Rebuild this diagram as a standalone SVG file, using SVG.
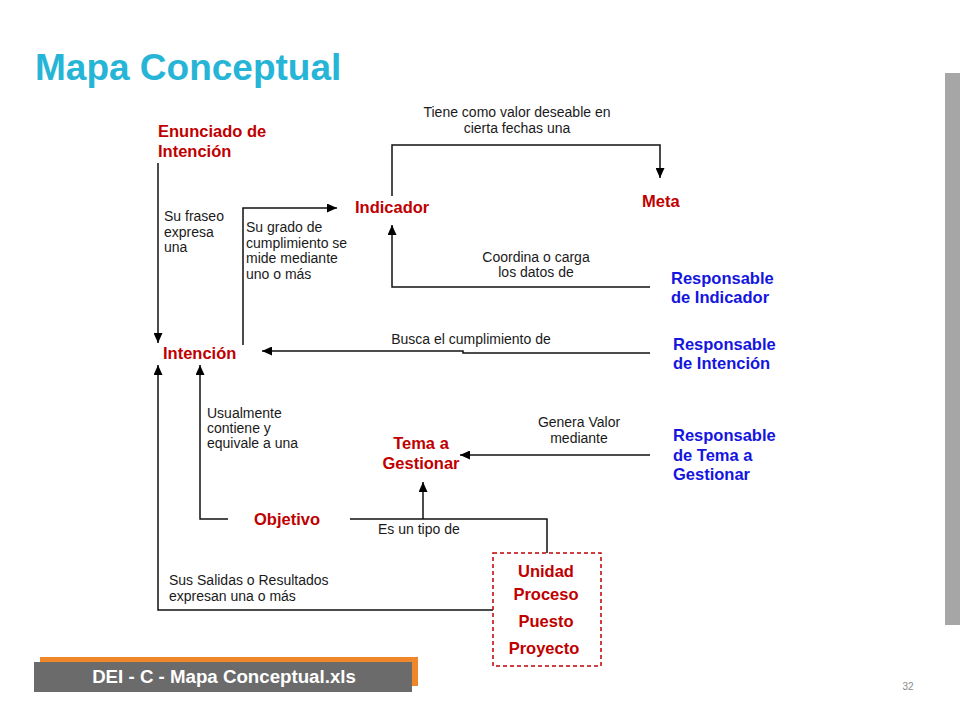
<svg xmlns="http://www.w3.org/2000/svg" width="960" height="720" viewBox="0 0 960 720">
<defs>
<marker id="arr" markerUnits="userSpaceOnUse" markerWidth="11" markerHeight="9" refX="10" refY="4.5" orient="auto">
<path d="M0,0 L10,4.5 L0,9 z" fill="#000"/>
</marker>
<style>
.title{font-family:"Liberation Sans",Arial,sans-serif;font-weight:bold;font-size:37px;fill:#27B5D7}
.red{font-family:"Liberation Sans",Arial,sans-serif;font-weight:bold;font-size:16.5px;fill:#C00000}
.blue{font-family:"Liberation Sans",Arial,sans-serif;font-weight:bold;font-size:16.5px;fill:#1515E0}
.lbl{font-family:"Liberation Sans",Arial,sans-serif;font-size:14px;fill:#1a1a1a}
.ln{fill:none;stroke:#111;stroke-width:1.5}
.foot{font-family:"Liberation Sans",Arial,sans-serif;font-weight:bold;font-size:18.7px;fill:#fff}
</style>
</defs>
<rect width="960" height="720" fill="#fff"/>
<text class="title" x="35" y="80">Mapa Conceptual</text>
<rect x="945" y="73" width="15" height="552" fill="#A6A6A6"/>

<g id="connectors">
<path class="ln" d="M158,163 V343" marker-end="url(#arr)"/>
<path class="ln" d="M243,345 V208 H337" marker-end="url(#arr)"/>
<path class="ln" d="M392,196 V145 H660 V178" marker-end="url(#arr)"/>
<path class="ln" d="M650,287 H392 V225" marker-end="url(#arr)"/>
<path class="ln" d="M650,353 H463 V351 H262" marker-end="url(#arr)"/>
<path class="ln" d="M228,519 H200 V365" marker-end="url(#arr)"/>
<path class="ln" d="M493,610 H158 V365" marker-end="url(#arr)"/>
<path class="ln" d="M650,455 H460" marker-end="url(#arr)"/>
<path class="ln" d="M350,519 H547 V553"/>
<path class="ln" d="M423,519 V482" marker-end="url(#arr)"/>
<g id="connector-labels">
<text class="lbl" x="164" y="221">Su fraseo</text>
<text class="lbl" x="164" y="237">expresa</text>
<text class="lbl" x="164" y="252">una</text>
<text class="lbl" x="246" y="232">Su grado de</text>
<text class="lbl" x="246" y="248">cumplimiento se</text>
<text class="lbl" x="246" y="263">mide mediante</text>
<text class="lbl" x="246" y="279">uno o más</text>
<text class="lbl" x="517" y="117" text-anchor="middle">Tiene como valor deseable en</text>
<text class="lbl" x="517" y="133" text-anchor="middle">cierta fechas una</text>
<text class="lbl" x="536" y="262" text-anchor="middle">Coordina o carga</text>
<text class="lbl" x="536" y="277" text-anchor="middle">los datos de</text>
<text class="lbl" x="471" y="344" text-anchor="middle">Busca el cumplimiento de</text>
<text class="lbl" x="207" y="418">Usualmente</text>
<text class="lbl" x="207" y="433">contiene y</text>
<text class="lbl" x="207" y="448">equivale a una</text>
<text class="lbl" x="579" y="427" text-anchor="middle">Genera Valor</text>
<text class="lbl" x="579" y="443" text-anchor="middle">mediante</text>
<text class="lbl" x="378" y="534">Es un tipo de</text>
<text class="lbl" x="169" y="585">Sus Salidas o Resultados</text>
<text class="lbl" x="169" y="601">expresan una o más</text>
</g>
</g>

<g id="enunciado"><text class="red" x="158" y="137">Enunciado de</text><text class="red" x="158" y="157">Intención</text></g>
<g id="indicador"><text class="red" x="355" y="213">Indicador</text></g>
<g id="meta"><text class="red" x="642" y="207">Meta</text></g>
<g id="intencion"><text class="red" x="163" y="359">Intención</text></g>
<g id="tema"><text class="red" x="421" y="449" text-anchor="middle">Tema a</text><text class="red" x="421" y="469" text-anchor="middle">Gestionar</text></g>
<g id="objetivo"><text class="red" x="254" y="525">Objetivo</text></g>
<g id="resp-indicador"><text class="blue" x="671" y="284">Responsable</text><text class="blue" x="671" y="303">de Indicador</text></g>
<g id="resp-intencion"><text class="blue" x="673" y="350">Responsable</text><text class="blue" x="673" y="369">de Intención</text></g>
<g id="resp-tema"><text class="blue" x="673" y="441">Responsable</text><text class="blue" x="673" y="461">de Tema a</text><text class="blue" x="673" y="480">Gestionar</text></g>
<g id="unidad">
<rect x="493" y="553" width="108" height="113" fill="none" stroke="#C00000" stroke-width="1.5" stroke-dasharray="4,3"/>
<text class="red" x="546" y="577" text-anchor="middle">Unidad</text>
<text class="red" x="546" y="600" text-anchor="middle">Proceso</text>
<text class="red" x="546" y="627" text-anchor="middle">Puesto</text>
<text class="red" x="544" y="654" text-anchor="middle">Proyecto</text>
</g>

<g id="footer">
<rect x="40" y="657" width="378" height="29" fill="#F0862A"/>
<rect x="34" y="662" width="378" height="30" fill="#6B6B6B"/>
<text class="foot" x="224" y="683" text-anchor="middle">DEI - C - Mapa Conceptual.xls</text>
<text x="908" y="690" font-family="Liberation Sans,Arial,sans-serif" font-size="10" fill="#888" text-anchor="middle">32</text>
</g>
</svg>
